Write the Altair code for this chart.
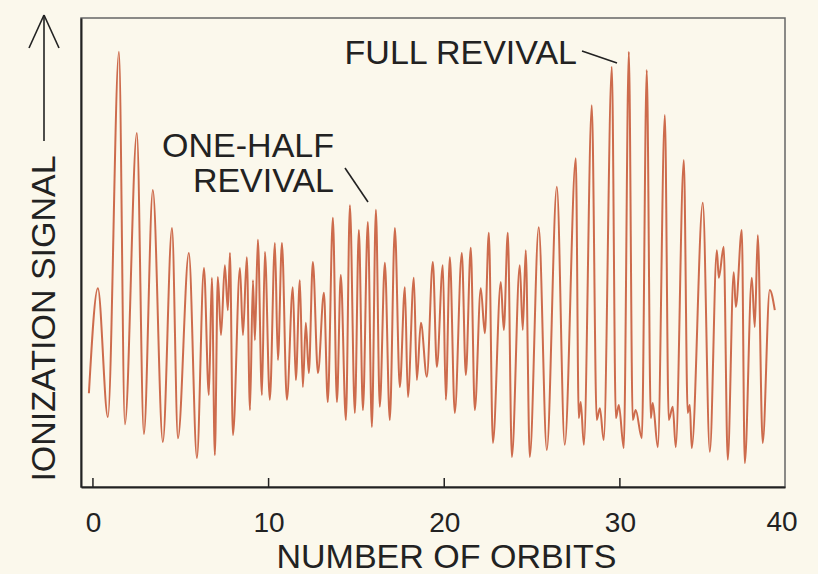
import altair as alt
import pandas as pd

# Ionization signal (arbitrary units, 0 = bottom of frame, 100 = top) vs number of orbits,
# read from the extrema of the recorded trace.
orbits = [-0.23, 0.28, 0.85, 1.48, 1.82, 2.50, 2.90, 3.41, 3.98, 4.50,
          4.84, 5.46, 5.92, 6.32, 6.60, 6.77, 6.94, 7.11, 7.29, 7.51,
          7.68, 7.80, 7.97, 8.37, 8.54, 8.76, 8.94, 9.11, 9.22, 9.39,
          9.62, 9.79, 10.07, 10.36, 10.53, 10.76, 11.04, 11.38, 11.55, 11.78,
          11.95, 12.12, 12.29, 12.52, 12.81, 13.15, 13.37, 13.66, 13.89, 14.11,
          14.40, 14.63, 14.91, 15.14, 15.37, 15.65, 15.88, 16.11, 16.33, 16.62,
          16.90, 17.19, 17.47, 17.76, 17.93, 18.27, 18.44, 18.67, 19.01, 19.35,
          19.58, 19.92, 20.09, 20.32, 20.60, 21.00, 21.23, 21.51, 21.74, 22.08,
          22.31, 22.54, 22.77, 23.22, 23.39, 23.62, 23.85, 24.30, 24.47, 24.64,
          24.87, 25.38, 25.84, 26.41, 26.86, 27.49, 27.66, 27.77, 27.95, 28.40,
          28.68, 28.86, 29.08, 29.54, 29.77, 29.94, 30.22, 30.51, 30.73, 30.90,
          31.25, 31.53, 31.76, 31.87, 32.16, 32.56, 32.78, 33.01, 33.18, 33.64,
          33.86, 33.98, 34.09, 34.72, 35.12, 35.52, 35.63, 35.91, 36.14, 36.48,
          36.60, 36.94, 37.11, 37.51, 37.68, 37.85, 38.13, 38.53, 38.82]
signal = [20.0, 42.4, 14.9, 92.8, 13.4, 75.5, 11.3, 63.3, 9.6, 55.2,
          10.4, 49.9, 6.2, 46.7, 19.6, 44.6, 6.8, 44.8, 32.4, 47.3,
          37.7, 49.9, 11.1, 46.7, 32.4, 49.0, 16.4, 44.1, 31.3, 52.7,
          19.6, 50.1, 18.6, 52.0, 27.1, 52.0, 18.6, 42.6, 22.8, 44.1,
          21.3, 35.0, 24.3, 48.0, 24.3, 41.4, 18.1, 57.4, 18.1, 45.2,
          14.3, 60.1, 15.8, 54.8, 16.4, 56.5, 12.8, 59.1, 17.1, 47.8,
          14.3, 55.2, 21.3, 42.6, 19.2, 44.6, 22.8, 35.0, 23.5, 48.0,
          25.6, 47.3, 18.6, 49.0, 15.8, 49.9, 23.9, 51.0, 16.4, 42.4,
          32.8, 54.2, 9.4, 43.7, 33.5, 54.2, 6.4, 47.3, 33.5, 50.5,
          6.4, 55.4, 7.9, 64.0, 9.0, 70.1, 14.7, 18.1, 9.0, 81.4,
          14.3, 16.8, 10.0, 89.6, 14.7, 17.5, 8.3, 92.8, 14.3, 16.4,
          10.4, 88.9, 14.7, 17.9, 8.5, 79.3, 14.3, 17.1, 8.5, 69.7,
          15.8, 17.5, 8.3, 60.6, 7.5, 50.5, 44.6, 51.2, 5.8, 45.8,
          38.4, 54.8, 5.1, 44.6, 34.1, 53.7, 9.4, 42.0, 37.7]

tick_orbits = [0, 10, 20, 30]
last_tick_label = ["40"]
x_title = "NUMBER OF ORBITS"
y_title = "IONIZATION SIGNAL"
full_label = ["FULL REVIVAL"]
half_label_1 = ["ONE-HALF"]
half_label_2 = ["REVIVAL"]

W, H = 704, 469
FONT = "Liberation Sans"
INK = "#222222"
TRACE = "#c95e3e"

df = pd.DataFrame({"orbit": orbits, "signal": signal})
xscale = alt.Scale(domain=[-0.68, 39.4], nice=False, zero=False)
yscale = alt.Scale(domain=[0, 100], nice=False, zero=False)

line = alt.Chart(df).mark_line(
    color=TRACE, strokeWidth=2, interpolate="monotone", opacity=0.92
).encode(
    x=alt.X("orbit:Q", scale=xscale, axis=alt.Axis(
        values=tick_orbits, ticks=False, grid=False, labelFlush=False,
        domainColor=INK, domainWidth=2,
        labelFont=FONT, labelFontSize=28, labelColor=INK, labelPadding=22,
        title=x_title, titleFont=FONT, titleFontSize=34, titleFontWeight="normal",
        titleColor=INK, titleX=365, titleY=70, titleBaseline="middle",
        titleAlign="center")),
    y=alt.Y("signal:Q", scale=yscale, axis=alt.Axis(
        labels=False, ticks=False, grid=False,
        domainColor=INK, domainWidth=2,
        title=y_title, titleFont=FONT, titleFontSize=34, titleFontWeight="normal",
        titleColor=INK, titleAngle=270, titleX=-37, titleY=300,
        titleAlign="center", titleBaseline="middle")),
)

ticks = alt.Chart(pd.DataFrame({"orbit": tick_orbits})).mark_rule(
    color=INK, strokeWidth=1.5
).encode(x=alt.X("orbit:Q", scale=xscale), y=alt.value(H), y2=alt.value(H - 9))

forty = alt.Chart(pd.DataFrame({"t": last_tick_label})).mark_text(
    font=FONT, fontSize=28, color=INK, align="center", baseline="top"
).encode(text="t:N", x=alt.value(701), y=alt.value(H + 22))


def label(lst, x, y):
    return alt.Chart(pd.DataFrame({"t": lst})).mark_text(
        font=FONT, fontSize=34, color=INK, align="right", baseline="alphabetic"
    ).encode(text="t:N", x=alt.value(x), y=alt.value(y))


def seg(x1, y1, x2, y2, w=1.6, color=INK):
    return alt.Chart(pd.DataFrame({"k": [0]})).mark_rule(
        color=color, strokeWidth=w
    ).encode(x=alt.value(x1), x2=alt.value(x2), y=alt.value(y1), y2=alt.value(y2))


layers = [
    line, ticks, forty,
    label(full_label, 496, 46),
    label(half_label_1, 253, 139),
    label(half_label_2, 253, 174),
    seg(501, 33, 536, 45),
    seg(264, 150, 287, 184),
    # arrow beside the y title
    seg(-37, 123, -37, -3),
    seg(-52, 30, -37, -3),
    seg(-22, 30, -37, -3),
]

chart = alt.layer(*layers).properties(
    width=W, height=H,
    autosize=alt.AutoSizeParams(type="none"),
    padding={"left": 81, "top": 18, "right": 33, "bottom": 87},
    background="#fbf8ec",
).configure_view(stroke="#666666", strokeWidth=1.5)

chart.save("out.html", embed_options={"renderer": "svg", "actions": False})
